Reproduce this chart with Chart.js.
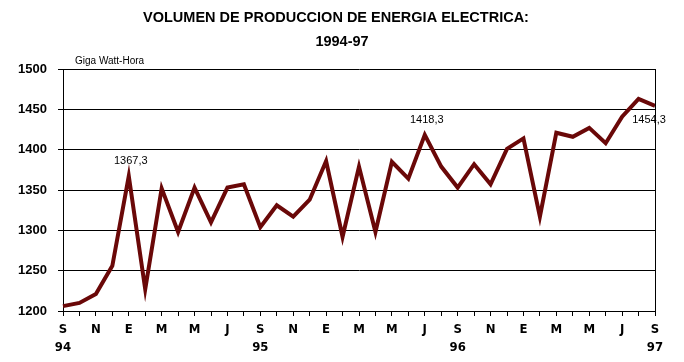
<!DOCTYPE html>
<html>
<head>
<meta charset="utf-8">
<script src="https://cdn.jsdelivr.net/npm/chart.js@4"></script>
<style>
  html, body { margin:0; padding:0; background:#fff; }
  #wrap { width:684px; height:362px; position:relative; }
</style>
</head>
<body>
<div id="wrap"><canvas id="chart"></canvas></div>
<script>
// ---------------- DATA ----------------
const months = ['S','O','N','D','E','F','M','A','M','J','J','A',
                'S','O','N','D','E','F','M','A','M','J','J','A',
                'S','O','N','D','E','F','M','A','M','J','J','A','S'];
const years = {0:'94', 12:'95', 24:'96', 36:'97'};
const produccion = [1206,1210,1221,1256,1367.3,1227,1352,1298,1353,1310,1353,1357,
                    1304,1331,1317,1338,1386,1292,1379,1298,1385,1364,1418.3,1379,
                    1353,1382,1357,1401,1414,1317,1421,1416,1427,1408,1441,1463,1454.3];
const labeled = [4, 22, 36];
const yTicks = [1200,1250,1300,1350,1400,1450,1500];

const $ = id => document.getElementById(id);
const labels = months.map((m,i) => years[i] ? [m, years[i]] : m);

// ---------------- EXTRAS: titles, unit, right border, value labels ----------------
const extras = {
  id:'extras',
  afterDraw(chart){
    const ctx = chart.ctx, a = chart.chartArea;
    ctx.save();
    ctx.fillStyle = '#000';
    ctx.textAlign = 'center';
    ctx.textBaseline = 'middle';
    ctx.font = 'bold 14.5px "Liberation Sans", Arial, sans-serif';
    ctx.fillText('VOLUMEN DE PRODUCCION DE ENERGIA ELECTRICA:', 336, 18);
    ctx.fillText('1994-97', 342, 42);

    ctx.textAlign = 'left';
    ctx.font = '10px "Liberation Sans", Arial, sans-serif';
    ctx.fillText('Giga Watt-Hora', 75, 61);

    ctx.strokeStyle = '#000';
    ctx.lineWidth = 1;
    ctx.beginPath();
    ctx.moveTo(Math.round(a.right)+0.5, a.top);
    ctx.lineTo(Math.round(a.right)+0.5, a.bottom);
    ctx.stroke();

    const meta = chart.getDatasetMeta(0);
    ctx.textAlign = 'center';
    ctx.font = '11px "Liberation Sans", Arial, sans-serif';
    labeled.forEach(i => {
      const p = meta.data[i];
      const txt = produccion[i].toFixed(1).replace('.', ',');
      if(i === produccion.length-1) ctx.fillText(txt, p.x-6, p.y+14);
      else ctx.fillText(txt, p.x+2, p.y-15);
    });
    ctx.restore();
  }
};

// ---------------- CHART ----------------
new Chart($('chart'), {
  type:'line',
  data:{
    labels: labels,
    datasets:[{
      data: produccion,
      borderColor:'#6a0808',
      borderWidth:4,
      pointRadius:0,
      tension:0,
      fill:false
    }]
  },
  options:{
    responsive:true,
    maintainAspectRatio:false,
    animation:false,
    layout:{ padding:{ left:0, right:29, top:69, bottom:0 } },
    plugins:{ legend:{display:false}, tooltip:{enabled:false} },
    scales:{
      x:{
        offset:false,
        afterFit(s){ s.height = 51; },
        grid:{ drawOnChartArea:false, drawTicks:true, tickLength:5, color:'#000' },
        border:{ color:'#000', width:1 },
        ticks:{
          autoSkip:false, maxRotation:0, padding:5,
          color:'#000',
          font:{ family:'"Liberation Sans Narrow", "Arial Narrow", "DejaVu Sans Condensed", sans-serif', size:13, weight:'bold', lineHeight:1.35 },
          callback(v, i){ return i % 2 === 0 ? labels[i] : ''; }
        }
      },
      y:{
        min:1200, max:1500,
        afterFit(s){ s.width = 63; },
        afterBuildTicks(s){ s.ticks = yTicks.map(v => ({value:v})); },
        grid:{ color:'#000', lineWidth:1, tickLength:5 },
        border:{ color:'#000', width:1 },
        ticks:{
          padding:11, color:'#000',
          font:{ family:'"Liberation Sans", Arial, sans-serif', size:13, weight:'bold' },
          callback(v){ return String(v); }
        }
      }
    }
  },
  plugins:[extras]
});
</script>
</body>
</html>
